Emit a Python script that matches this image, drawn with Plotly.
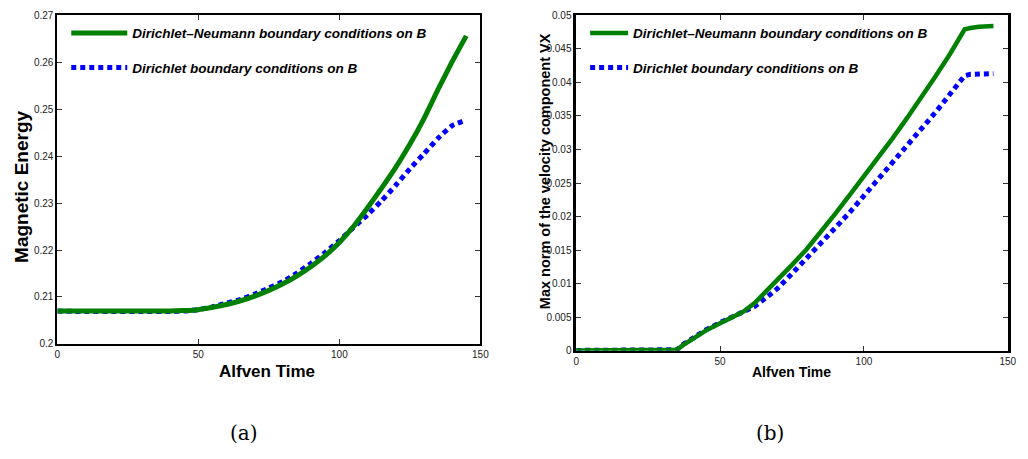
import plotly.graph_objects as go

# ---- (a) magnetic energy vs Alfven time ----
t_energy = [0, 10, 20, 30, 40, 45, 50, 55, 60, 65, 70, 75, 80, 85, 90, 95,
            100, 105, 110, 115, 120, 125, 130, 135, 140, 145]
energy_dn = [0.2070, 0.2070, 0.2070, 0.2070, 0.2070, 0.2071, 0.2073, 0.2078,
             0.2084, 0.2092, 0.2102, 0.2114, 0.2128, 0.2145, 0.2165, 0.2188,
             0.2216, 0.2250, 0.2290, 0.2332, 0.2376, 0.2425, 0.2480, 0.2542,
             0.2601, 0.2656]
energy_d = [0.2070, 0.2069, 0.2069, 0.2069, 0.2069, 0.2070, 0.2073, 0.2079,
            0.2087, 0.2095, 0.2106, 0.2119, 0.2133, 0.2151, 0.2172, 0.2195,
            0.2220, 0.2248, 0.2275, 0.2305, 0.2338, 0.2373, 0.2405, 0.2438,
            0.2465, 0.2477]

# ---- (b) max norm of VX vs Alfven time ----
t_vx = [0, 10, 20, 30, 35, 37, 40, 45, 50, 55, 58, 62, 66, 70, 75, 80, 85,
        90, 95, 100, 105, 110, 115, 120, 125, 130, 133, 135, 137, 140, 145]
vx_dn = [0.00005, 0.0001, 0.00012, 0.00015, 0.00015, 0.0008, 0.0016, 0.0030,
         0.0041, 0.0051, 0.0058, 0.0071, 0.0088, 0.0106, 0.0128, 0.0151,
         0.0177, 0.0204, 0.0232, 0.0260, 0.0288, 0.0317, 0.0347, 0.0378,
         0.0410, 0.0443, 0.0465, 0.0479, 0.0481, 0.0483, 0.0484]
vx_d = [0.00005, 0.0001, 0.00012, 0.00015, 0.00015, 0.0009, 0.0017, 0.0031,
        0.0042, 0.0052, 0.0057, 0.0066, 0.0079, 0.0093, 0.0115, 0.0137,
        0.0160, 0.0183, 0.0206, 0.0231, 0.0255, 0.0280, 0.0304, 0.0331,
        0.0356, 0.0383, 0.0400, 0.0410, 0.0412, 0.0412, 0.0413]

x_ticks = [0, 50, 100, 150]
x_ticktext = ["0", "50", "100", "150"]
energy_ticks = [0.20, 0.21, 0.22, 0.23, 0.24, 0.25, 0.26, 0.27]
energy_ticktext = ["0.2", "0.21", "0.22", "0.23", "0.24", "0.25", "0.26", "0.27"]
vx_ticks = [0, 0.005, 0.01, 0.015, 0.02, 0.025, 0.03, 0.035, 0.04, 0.045, 0.05]
vx_ticktext = ["0", "0.005", "0.01", "0.015", "0.02", "0.025", "0.03",
               "0.035", "0.04", "0.045", "0.05"]

name_dn = "<b><i>Dirichlet\u2013Neumann boundary conditions on B</i></b>"
name_d = "<b><i>Dirichlet boundary conditions on B</i></b>"

GREEN = "rgb(0,128,0)"
BLUE = "rgb(0,0,255)"
SANS = "Liberation Sans, Arial, sans-serif"
W, H = 1028, 459

fig = go.Figure()

fig.add_trace(go.Scatter(x=t_energy, y=energy_d, mode="lines", name=name_d,
                         line=dict(color=BLUE, width=5, dash="5px,4px", shape="spline", smoothing=0.5),
                         xaxis="x", yaxis="y", legend="legend", legendgroup="a2", legendrank=2))
fig.add_trace(go.Scatter(x=t_energy, y=energy_dn, mode="lines", name=name_dn,
                         line=dict(color=GREEN, width=5, shape="spline", smoothing=0.5),
                         xaxis="x", yaxis="y", legend="legend", legendgroup="a1", legendrank=1))
fig.add_trace(go.Scatter(x=t_vx, y=vx_d, mode="lines", name=name_d,
                         line=dict(color=BLUE, width=5, dash="5px,4px"),
                         xaxis="x2", yaxis="y2", legend="legend2", legendgroup="b2", legendrank=2))
fig.add_trace(go.Scatter(x=t_vx, y=vx_dn, mode="lines", name=name_dn,
                         line=dict(color=GREEN, width=4.5),
                         xaxis="x2", yaxis="y2", legend="legend2", legendgroup="b1", legendrank=1))

axis_common = dict(showgrid=False, zeroline=False, showline=True, linecolor="black",
                   linewidth=2, mirror="ticks", ticks="inside", ticklen=5, tickwidth=1,
                   tickcolor="#333", tickfont=dict(family=SANS, size=10, color="#222"))

fig.update_layout(
    width=W, height=H,
    margin=dict(l=0, r=0, t=0, b=0),
    paper_bgcolor="white", plot_bgcolor="white",
    xaxis=dict(domain=[55 / W, 483 / W], range=[0, 150], anchor="y",
               tickvals=x_ticks, ticktext=x_ticktext, **axis_common),
    yaxis=dict(domain=[1 - 347 / H, 1 - 9.5 / H], range=[0.2, 0.27], anchor="x",
               tickvals=energy_ticks, ticktext=energy_ticktext, **axis_common),
    xaxis2=dict(domain=[580 / W, 1016.7 / W], range=[0, 150], anchor="y2",
                tickvals=x_ticks, ticktext=x_ticktext, **axis_common),
    yaxis2=dict(domain=[1 - 354 / H, 1 - 9.5 / H], range=[0, 0.05], anchor="x2",
                tickvals=vx_ticks, ticktext=vx_ticktext, **axis_common),
    legend=dict(x=64 / W, y=1 - 12 / H, xanchor="left", yanchor="top",
                bgcolor="rgba(0,0,0,0)", borderwidth=0, tracegroupgap=14,
                itemwidth=56, font=dict(family=SANS, size=13.5, color="black")),
    legend2=dict(x=589 / W, y=1 - 12 / H, xanchor="left", yanchor="top",
                 bgcolor="rgba(0,0,0,0)", borderwidth=0, tracegroupgap=14,
                 itemwidth=38, font=dict(family=SANS, size=13.5, color="black")),
    showlegend=True,
)
fig.update_layout(yaxis2_linewidth=2.5)

labels = [
    dict(text="<b>Magnetic Energy</b>", x=18 / W, y=1 - 186 / H, textangle=-90, size=19),
    dict(text="<b>Alfven Time</b>", x=267 / W, y=1 - 375 / H, textangle=0, size=17),
    dict(text="<b>Max norm of the velocity component VX</b>", x=548 / W, y=1 - 170 / H,
         textangle=-90, size=14.5),
    dict(text="<b>Alfven Time</b>", x=798 / W, y=1 - 376 / H, textangle=0, size=14),
]
for lab in labels:
    fig.add_annotation(text=lab["text"], x=lab["x"], y=lab["y"], xref="paper", yref="paper",
                       xanchor="center", yanchor="middle", showarrow=False,
                       textangle=lab["textangle"],
                       font=dict(family=SANS, size=lab["size"], color="black"))

for cap, cx in [("(a)", 244), ("(b)", 776)]:
    fig.add_annotation(text=cap, x=cx / W, y=1 - 438 / H, xref="paper", yref="paper",
                       xanchor="center", yanchor="middle", showarrow=False,
                       font=dict(family="DejaVu Serif, Liberation Serif, serif", size=20,
                                 color="black"))

fig.write_html("out.html")
